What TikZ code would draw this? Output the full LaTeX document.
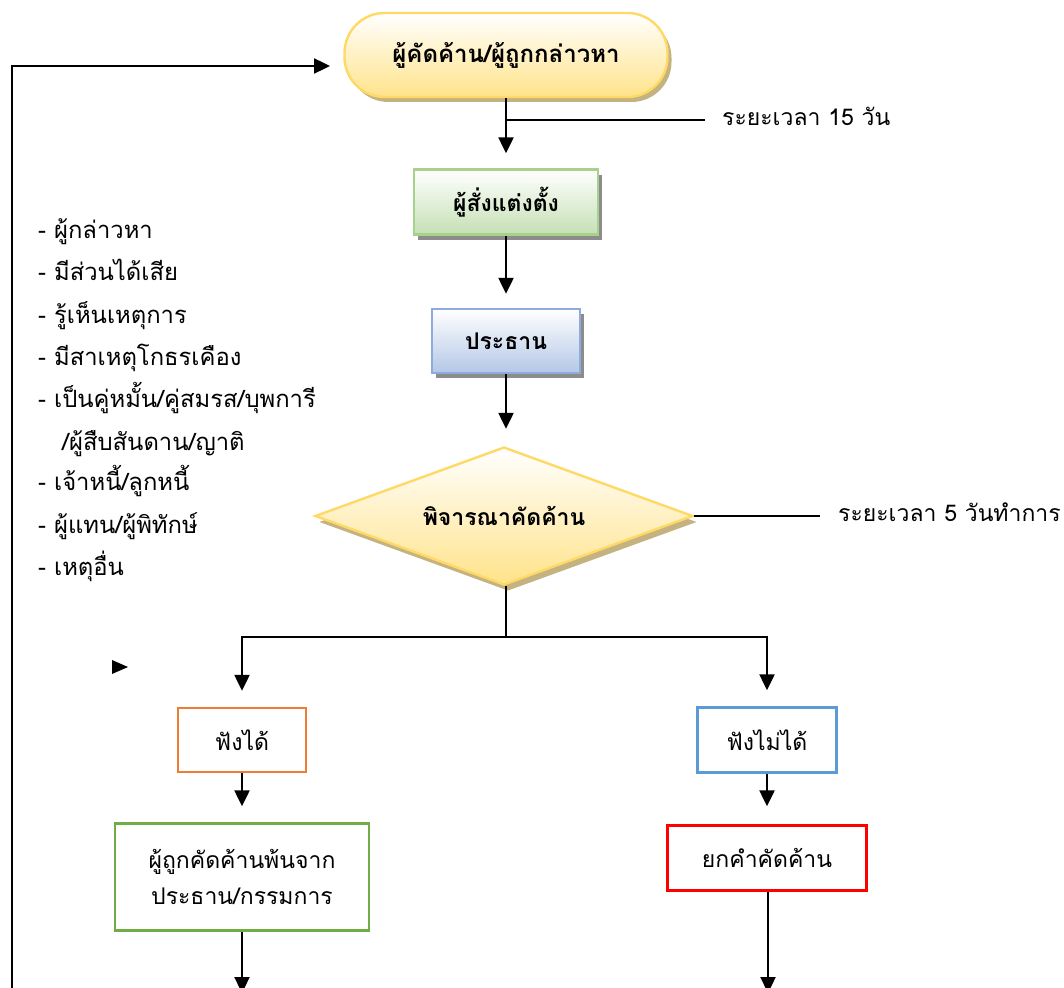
\documentclass[tikz,border=0pt]{standalone}
\usepackage{fontspec}
\setmainfont[Script=Thai]{Loma}
\usetikzlibrary{arrows.meta,shapes.geometric,shadows,calc}
\definecolor{ybord}{RGB}{255,217,102}
\definecolor{yfill}{RGB}{255,227,138}
\definecolor{yshad}{RGB}{196,178,128}
\definecolor{gbord}{RGB}{169,209,142}
\definecolor{gfill}{RGB}{197,224,180}
\definecolor{bbord}{RGB}{143,170,220}
\definecolor{bfill}{RGB}{180,199,231}
\definecolor{gshad}{RGB}{140,140,140}
\definecolor{orb}{RGB}{237,125,49}
\definecolor{blb}{RGB}{91,155,213}
\definecolor{grb}{RGB}{112,173,71}
\definecolor{rdb}{RGB}{255,0,0}
\tikzset{
  tip/.style={-{Triangle[width=15pt,length=16pt]}},
  arr/.style={line width=2.3pt,tip},
  plain/.style={line width=2pt},
  term/.style={draw=ybord,line width=2.4pt,rounded corners=40pt,top color=white,bottom color=yfill,
    drop shadow={shadow xshift=4pt,shadow yshift=-5pt,fill=yshad,opacity=1},
    minimum width=323pt,minimum height=84pt,font=\fontsize{24}{28}\selectfont\bfseries},
  gbox/.style={draw=gbord,line width=2.4pt,top color=white,bottom color=gfill,
    drop shadow={shadow xshift=4pt,shadow yshift=-5pt,fill=gshad,opacity=1},
    minimum width=184pt,minimum height=65pt,font=\fontsize{23}{27}\selectfont\bfseries},
  bbox/.style={draw=bbord,line width=2.4pt,top color=white,bottom color=bfill,
    drop shadow={shadow xshift=4pt,shadow yshift=-5pt,fill=gshad,opacity=1},
    minimum width=148pt,minimum height=64pt,font=\fontsize{23}{27}\selectfont\bfseries},
  dia/.style={diamond,aspect=2.74,draw=ybord,line width=2.4pt,top color=white,bottom color=yfill,inner sep=0pt,
    drop shadow={shadow xshift=4pt,shadow yshift=-6pt,fill=yshad,opacity=1},
    minimum width=378pt,minimum height=138pt,font=\fontsize{23}{27}\selectfont\bfseries},
  obox/.style={draw,line width=2.4pt,fill=white,font=\fontsize{23}{36}\selectfont,align=center},
  lst/.style={anchor=base west,inner sep=0pt,font=\fontsize{23.8}{27}\selectfont},
  lbl/.style={anchor=west,inner sep=0pt,font=\fontsize{23}{26}\selectfont},
}
\begin{document}
\begin{tikzpicture}[x=1pt,y=-1pt]
\clip (0,0) rectangle (1064,987);
\fill[white] (0,0) rectangle (1064,987);
% nodes
\node[term] (start) at (506,55) {ผู้คัดค้าน/ผู้ถูกกล่าวหา};
\node[gbox] (appt) at (506,202) {ผู้สั่งแต่งตั้ง};
\node[bbox] (chair) at (506,341) {ประธาน};
\node[dia] (cons) at (504,516) {พิจารณาคัดค้าน};
\node[obox,draw=orb,minimum width=128pt,minimum height=64pt] (yes) at (242,740) {ฟังได้};
\node[obox,draw=blb,minimum width=139pt,minimum height=65pt] (no) at (767,740) {ฟังไม่ได้};
\node[obox,draw=grb,minimum width=254pt,minimum height=107pt] (out) at (242,877) {ผู้ถูกคัดค้านพ้นจาก\\ประธาน/กรรมการ};
\node[obox,draw=rdb,minimum width=199pt,minimum height=65pt] (rej) at (767,858) {ยกคำคัดค้าน};
% labels
\node[lbl] (l15) at (722,116) {ระยะเวลา 15 วัน};
\node[lbl] (l5) at (838,512) {ระยะเวลา 5 วันทำการ};
% list
\node[lst] (a1) at (38,238) {- ผู้กล่าวหา};
\node[lst] (a2) at (38,280) {- มีส่วนได้เสีย};
\node[lst] (a3) at (38,323) {- รู้เห็นเหตุการ};
\node[lst] (a4) at (38,365) {- มีสาเหตุโกธรเคือง};
\node[lst] (a5) at (38,407) {- เป็นคู่หมั้น/คู่สมรส/บุพการี};
\node[lst] (a6) at (62,450) {/ผู้สืบสันดาน/ญาติ};
\node[lst] (a7) at (38,490) {- เจ้าหนี้/ลูกหนี้};
\node[lst] (a8) at (38,533) {- ผู้แทน/ผู้พิทักษ์};
\node[lst] (a9) at (38,575) {- เหตุอื่น};
% coordinates
\coordinate (t1) at (506,120);
\coordinate (j) at (506,637);
\coordinate (b1) at (242,993);
\coordinate (b2) at (768,993);
\coordinate (lb) at (12,1000);
\coordinate (lt) at (330,66);
% connectors
\draw[arr,shorten >=15pt] (start) -- (appt);
\draw[plain] (t1) -- ([xshift=-17pt]l15.west |- t1);
\draw[arr,shorten >=14pt] (appt) -- (chair);
\draw[arr,shorten >=17pt] (chair) -- (chair |- cons.north);
\draw[plain] (cons.east) -- ([xshift=-18pt]l5.west|-cons.east);
\draw[plain] (j |- cons.south) -- (j);
\draw[arr,shorten >=16pt] (j) -| (yes.north);
\draw[arr,shorten >=16pt] (j) -| (no.north);
\draw[arr,shorten >=16pt] (yes) -- (out);
\draw[arr,shorten >=18pt] (no) -- (rej);
\draw[arr] (out) -- (b1);
\draw[arr] (rej.south-|b2) -- (b2);
\draw[line width=2.4pt,tip] (lb) |- (lt);
\fill (112,660) -- (128,667) -- (112,674) -- cycle;
\end{tikzpicture}
\end{document}
